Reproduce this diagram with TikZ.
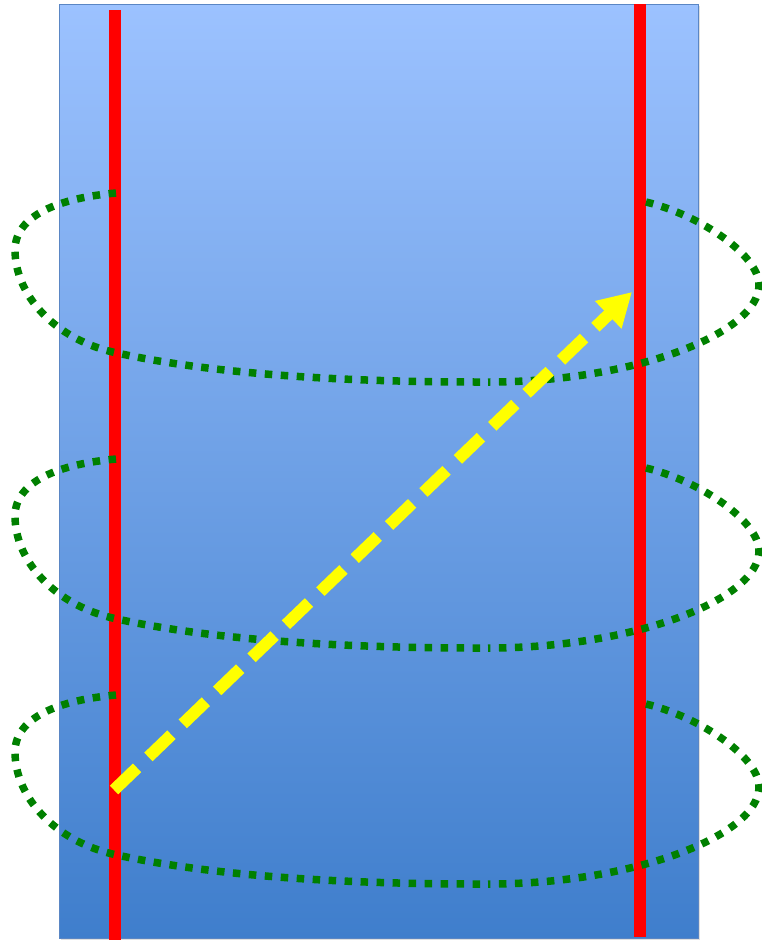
\documentclass[tikz,border=0pt]{standalone}
\usetikzlibrary{arrows.meta,shadows}
\definecolor{paneltop}{HTML}{9CC2FF}
\definecolor{panelbot}{HTML}{3F7ECC}
\definecolor{panelrim}{HTML}{5A86C4}
\definecolor{coilgreen}{HTML}{008000}
\definecolor{rodred}{HTML}{FF0000}
\definecolor{arrowyellow}{HTML}{FFFF00}
\begin{document}
\begin{tikzpicture}[x=1pt,y=-1pt,
  panel/.style={draw=panelrim, line width=1pt, top color=paneltop, bottom color=panelbot,
    drop shadow={shadow xshift=2pt, shadow yshift=-2pt, opacity=0.25}},
  rod/.style={draw=rodred, line width=12pt},
  greendots/.style={draw=coilgreen, line width=7.5pt, dash pattern=on 7.5pt off 8.5pt},
  yellowarrow/.style={draw=arrowyellow, line width=12pt, dash pattern=on 32pt off 15.7pt,
    -{Triangle[width=36pt,length=33pt]}},
  coil/.pic={
    \draw[greendots] (116,193) .. controls (60,198) and (15,215) .. (15,250)
      .. controls (15,295) and (55,340) .. (117,353)
      .. controls (227,377) and (370,382) .. (480,382);
    \draw[greendots] (646,202) .. controls (700,215) and (759,255) .. (759,285)
      .. controls (759,333) and (635,382) .. (488,382);
  }
]
\useasboundingbox (0,0) rectangle (762,945);
\path[panel] (59,4) rectangle (698,938);
\draw[rod] (114.5,10) -- (114.5,940);
\draw[rod] (640,4) -- (640,937);
\pic at (0,0) {coil};
\pic at (0,266) {coil};
\pic at (0,502) {coil};
\coordinate (ystart) at (114,790);
\coordinate (yend) at (632,292);
\draw[yellowarrow] (ystart) -- (yend);
\end{tikzpicture}
\end{document}
